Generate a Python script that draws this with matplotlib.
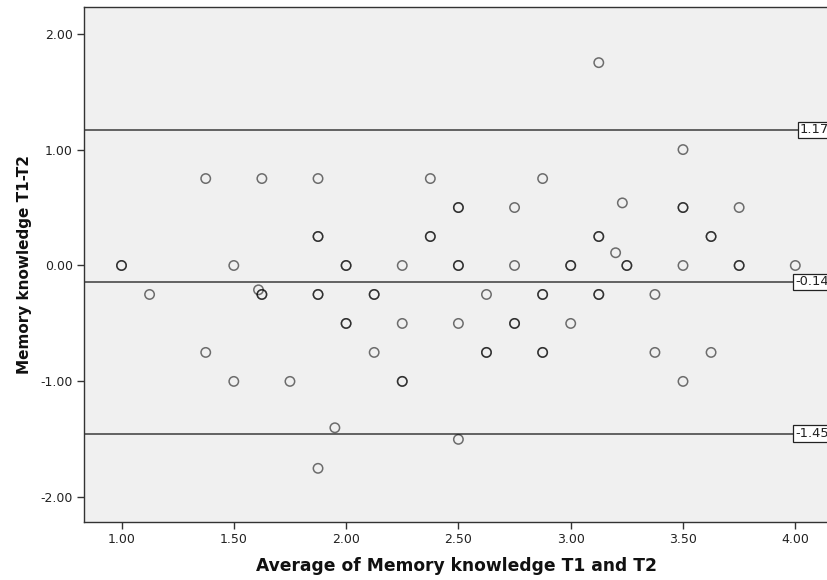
import matplotlib
matplotlib.use("Agg")
import matplotlib.pyplot as plt
import numpy as np

# Bland-Altman data: average (x) and difference (y); repeated entries = overlapping cases
avg_vals = [1.0, 1.0, 1.125, 1.375, 1.375, 1.5, 1.5, 1.61, 1.625, 1.625, 1.625,
            1.75, 1.875, 1.875, 1.875, 1.875, 1.875, 1.875, 1.95,
            2.0, 2.0, 2.0, 2.0, 2.125, 2.125, 2.125, 2.25, 2.25, 2.25, 2.25,
            2.375, 2.375, 2.375, 2.5, 2.5, 2.5, 2.5, 2.5, 2.5,
            2.625, 2.625, 2.625, 2.75, 2.75, 2.75, 2.75, 2.875, 2.875, 2.875, 2.875, 2.875,
            3.0, 3.0, 3.0, 3.125, 3.125, 3.125, 3.125, 3.125, 3.2, 3.23, 3.25, 3.25,
            3.375, 3.375, 3.5, 3.5, 3.5, 3.5, 3.5, 3.625, 3.625, 3.625,
            3.75, 3.75, 3.75, 4.0]
diff_vals = [0.0, 0.0, -0.25, 0.75, -0.75, 0.0, -1.0, -0.21, 0.75, -0.25, -0.25,
             -1.0, 0.75, 0.25, 0.25, -0.25, -0.25, -1.75, -1.40,
             0.0, 0.0, -0.5, -0.5, -0.25, -0.25, -0.75, 0.0, -0.5, -1.0, -1.0,
             0.75, 0.25, 0.25, 0.5, 0.5, 0.0, 0.0, -0.5, -1.5,
             -0.25, -0.75, -0.75, 0.5, 0.0, -0.5, -0.5, 0.75, -0.25, -0.25, -0.75, -0.75,
             0.0, 0.0, -0.5, 1.75, 0.25, 0.25, -0.25, -0.25, 0.11, 0.54, 0.0, 0.0,
             -0.25, -0.75, 1.0, 0.5, 0.5, 0.0, -1.0, 0.25, 0.25, -0.75,
             0.5, 0.0, 0.0, 0.0]

ref_values = [1.17, -0.14, -1.45]
ref_labels = ["1.17", "-0.14", "-1.45"]

x_ticks = [1.0, 1.5, 2.0, 2.5, 3.0, 3.5, 4.0]
y_ticks = [-2.0, -1.0, 0.0, 1.0, 2.0]

plt.rcParams['font.family'] = ['DejaVu Sans']

fig = plt.figure(figsize=(8.28, 5.80), dpi=100)
fig.patch.set_facecolor('white')
W, H = 828, 580
ax = fig.add_axes([84 / W, 1 - 522 / H, (830 - 84) / W, (522 - 7) / H])
ax.set_facecolor('#F0F0F0')

px_per_x = 224.6
x0 = 1 - (121.5 - 84) / px_per_x
x1 = 1 + (830 - 121.5) / px_per_x
ax.set_xlim(x0, x1)
ax.set_ylim(-2.213, 2.23)

for v in ref_values:
    ax.axhline(v, color='#4a4a4a', lw=1.2, zorder=1)

ax.scatter(avg_vals, diff_vals, s=46, facecolors='none',
           edgecolors=(0, 0, 0, 0.55), linewidths=1.1, zorder=3)

for v, lab in zip(ref_values, ref_labels):
    ax.text(4.148, v, lab, ha='right', va='center', fontsize=9.4, color='#222222',
            bbox=dict(boxstyle='square,pad=0.12', fc='white', ec='#222222', lw=0.9),
            clip_on=False, zorder=5)

ax.set_xticks(x_ticks)
ax.set_yticks(y_ticks)
ax.set_xticklabels([f"{t:.2f}" for t in x_ticks])
ax.set_yticklabels([f"{t:.2f}" for t in y_ticks])
ax.tick_params(axis='both', direction='out', length=5, width=1.0, color='#333333',
               labelsize=9, labelcolor='#222222', pad=3)

for s in ['left', 'bottom', 'top']:
    ax.spines[s].set_color('#333333')
    ax.spines[s].set_linewidth(1.0)
ax.spines['right'].set_visible(False)

ax.set_xlabel("Average of Memory knowledge T1 and T2", fontsize=12.3,
              fontweight='bold', labelpad=8, color='#111111')
ax.set_ylabel("Memory knowledge T1-T2", fontsize=11,
              fontweight='bold', labelpad=6, color='#111111')

fig.savefig("out.png", dpi=100)
